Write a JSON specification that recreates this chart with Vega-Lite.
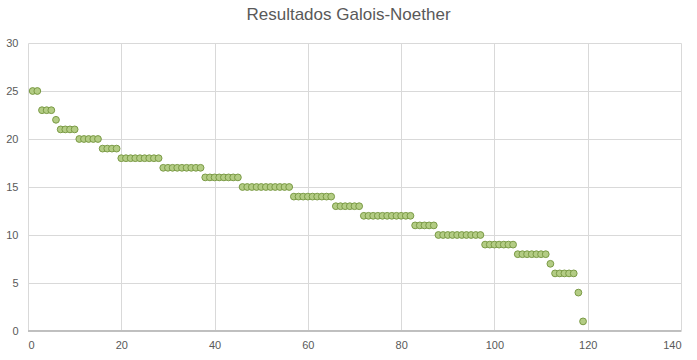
{
  "$schema": "https://vega.github.io/schema/vega-lite/v6.json",
  "width": 653,
  "height": 288,
  "autosize": {"type": "none"},
  "padding": {"left": 28, "top": 43, "right": 16, "bottom": 29},
  "background": "white",
  "title": {
    "text": "Resultados Galois-Noether",
    "font": "Liberation Sans",
    "fontSize": 17,
    "fontWeight": "normal",
    "color": "#595959",
    "offset": 13,
    "anchor": "middle",
    "dx": -6
  },
  "config": {
    "view": {"stroke": null},
    "axis": {
      "labelFont": "Liberation Sans",
      "labelFontSize": 11,
      "labelColor": "#595959",
      "gridColor": "#d9d9d9",
      "gridWidth": 1,
      "ticks": false,
      "domain": false,
      "title": null
    }
  },
  "data": {
    "values": [
      {"x": 1, "y": 25}, {"x": 2, "y": 25},
      {"x": 3, "y": 23}, {"x": 4, "y": 23}, {"x": 5, "y": 23},
      {"x": 6, "y": 22},
      {"x": 7, "y": 21}, {"x": 8, "y": 21}, {"x": 9, "y": 21}, {"x": 10, "y": 21},
      {"x": 11, "y": 20}, {"x": 12, "y": 20}, {"x": 13, "y": 20}, {"x": 14, "y": 20}, {"x": 15, "y": 20},
      {"x": 16, "y": 19}, {"x": 17, "y": 19}, {"x": 18, "y": 19}, {"x": 19, "y": 19},
      {"x": 20, "y": 18}, {"x": 21, "y": 18}, {"x": 22, "y": 18}, {"x": 23, "y": 18}, {"x": 24, "y": 18}, {"x": 25, "y": 18}, {"x": 26, "y": 18}, {"x": 27, "y": 18}, {"x": 28, "y": 18},
      {"x": 29, "y": 17}, {"x": 30, "y": 17}, {"x": 31, "y": 17}, {"x": 32, "y": 17}, {"x": 33, "y": 17}, {"x": 34, "y": 17}, {"x": 35, "y": 17}, {"x": 36, "y": 17}, {"x": 37, "y": 17},
      {"x": 38, "y": 16}, {"x": 39, "y": 16}, {"x": 40, "y": 16}, {"x": 41, "y": 16}, {"x": 42, "y": 16}, {"x": 43, "y": 16}, {"x": 44, "y": 16}, {"x": 45, "y": 16},
      {"x": 46, "y": 15}, {"x": 47, "y": 15}, {"x": 48, "y": 15}, {"x": 49, "y": 15}, {"x": 50, "y": 15}, {"x": 51, "y": 15}, {"x": 52, "y": 15}, {"x": 53, "y": 15}, {"x": 54, "y": 15}, {"x": 55, "y": 15}, {"x": 56, "y": 15},
      {"x": 57, "y": 14}, {"x": 58, "y": 14}, {"x": 59, "y": 14}, {"x": 60, "y": 14}, {"x": 61, "y": 14}, {"x": 62, "y": 14}, {"x": 63, "y": 14}, {"x": 64, "y": 14}, {"x": 65, "y": 14},
      {"x": 66, "y": 13}, {"x": 67, "y": 13}, {"x": 68, "y": 13}, {"x": 69, "y": 13}, {"x": 70, "y": 13}, {"x": 71, "y": 13},
      {"x": 72, "y": 12}, {"x": 73, "y": 12}, {"x": 74, "y": 12}, {"x": 75, "y": 12}, {"x": 76, "y": 12}, {"x": 77, "y": 12}, {"x": 78, "y": 12}, {"x": 79, "y": 12}, {"x": 80, "y": 12}, {"x": 81, "y": 12}, {"x": 82, "y": 12},
      {"x": 83, "y": 11}, {"x": 84, "y": 11}, {"x": 85, "y": 11}, {"x": 86, "y": 11}, {"x": 87, "y": 11},
      {"x": 88, "y": 10}, {"x": 89, "y": 10}, {"x": 90, "y": 10}, {"x": 91, "y": 10}, {"x": 92, "y": 10}, {"x": 93, "y": 10}, {"x": 94, "y": 10}, {"x": 95, "y": 10}, {"x": 96, "y": 10}, {"x": 97, "y": 10},
      {"x": 98, "y": 9}, {"x": 99, "y": 9}, {"x": 100, "y": 9}, {"x": 101, "y": 9}, {"x": 102, "y": 9}, {"x": 103, "y": 9}, {"x": 104, "y": 9},
      {"x": 105, "y": 8}, {"x": 106, "y": 8}, {"x": 107, "y": 8}, {"x": 108, "y": 8}, {"x": 109, "y": 8}, {"x": 110, "y": 8}, {"x": 111, "y": 8},
      {"x": 112, "y": 7},
      {"x": 113, "y": 6}, {"x": 114, "y": 6}, {"x": 115, "y": 6}, {"x": 116, "y": 6}, {"x": 117, "y": 6},
      {"x": 118, "y": 4},
      {"x": 119, "y": 1}
    ]
  },
  "layer": [
    {
      "mark": {"type": "rule", "color": "#bfbfbf", "strokeWidth": 1},
      "encoding": {"y": {"datum": 0, "type": "quantitative", "scale": {"domain": [0, 30]}}}
    },
    {
      "mark": {"type": "point", "filled": true, "shape": "circle", "size": 46, "fill": "#b3cc84", "stroke": "#7a9a45", "strokeWidth": 1, "opacity": 1},
      "encoding": {
        "x": {
          "field": "x",
          "type": "quantitative",
          "scale": {"domain": [0, 140], "nice": false, "zero": true},
          "axis": {"values": [0, 20, 40, 60, 80, 100, 120, 140], "labelPadding": 8, "grid": true}
        },
        "y": {
          "field": "y",
          "type": "quantitative",
          "scale": {"domain": [0, 30], "nice": false},
          "axis": {"values": [0, 5, 10, 15, 20, 25, 30], "labelPadding": 10, "grid": true}
        }
      }
    }
  ]
}
